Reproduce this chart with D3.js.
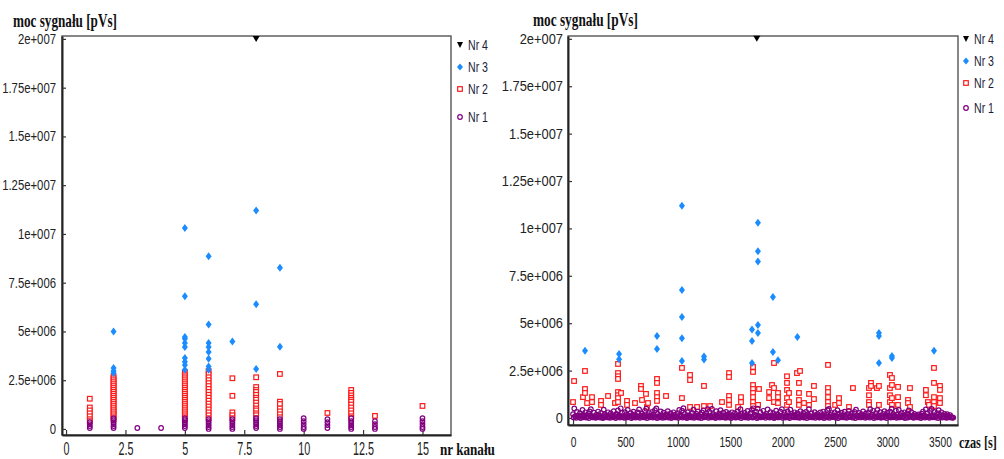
<!DOCTYPE html>
<html>
<head>
<meta charset="utf-8">
<script src="https://cdn.jsdelivr.net/npm/d3@7"></script>
<style>
  html, body { margin: 0; padding: 0; background: #fff; }
  svg { display: block; }
</style>
</head>
<body>
<svg id="chart" width="1004" height="459"></svg>
<script>
"use strict";

// ── Data ─────────────────────────────────────────────────────────────────────
const seriesNames = ["Nr 4", "Nr 3", "Nr 2", "Nr 1"];
const powerTicks = [0, 2.5e6, 5e6, 7.5e6, 1e7, 1.25e7, 1.5e7, 1.75e7, 2e7];
const channelTicks = [0, 2.5, 5, 7.5, 10, 12.5, 15];
const timeTicks = [0, 500, 1000, 1500, 2000, 2500, 3000, 3500];

// [channel, power]
const nr4ByChannel = [[8, 2.0e7]];
const nr3ByChannel = [
  [2, 5.0e6], [2, 3.13e6], [2, 2.97e6], [2, 2.87e6],
  [5, 10.3e6], [5, 6.8e6], [5, 4.72e6], [5, 4.62e6], [5, 4.41e6], [5, 4.2e6],
  [5, 3.64e6], [5, 3.44e6], [5, 3.28e6], [5, 3.03e6],
  [6, 8.85e6], [6, 5.35e6], [6, 4.41e6], [6, 4.2e6], [6, 3.95e6], [6, 3.6e6], [6, 3.2e6], [6, 3.03e6],
  [7, 4.48e6],
  [8, 11.2e6], [8, 6.4e6], [8, 3.08e6],
  [9, 8.27e6], [9, 4.22e6]
];
const nr2ByChannel = [
  [1, 1.55e6], [1, 1.1e6], [1, 0.95e6], [1, 0.8e6], [1, 0.65e6], [1, 0.5e6], [1, 0.4e6],
  [2, 2.7e6], [2, 2.6e6], [2, 2.5e6], [2, 2.4e6], [2, 2.3e6], [2, 2.2e6], [2, 2.1e6], [2, 2.0e6],
  [2, 1.9e6], [2, 1.8e6], [2, 1.7e6], [2, 1.6e6], [2, 1.5e6], [2, 1.4e6], [2, 1.3e6], [2, 1.2e6],
  [2, 1.1e6], [2, 1.0e6], [2, 0.9e6], [2, 0.8e6], [2, 0.7e6], [2, 0.6e6], [2, 0.5e6],
  [5, 2.92e6], [5, 2.8e6], [5, 2.7e6], [5, 2.6e6], [5, 2.5e6], [5, 2.4e6], [5, 2.3e6], [5, 2.2e6],
  [5, 2.1e6], [5, 2.0e6], [5, 1.9e6], [5, 1.8e6], [5, 1.7e6], [5, 1.6e6], [5, 1.5e6], [5, 1.4e6],
  [5, 1.3e6], [5, 1.2e6], [5, 1.1e6], [5, 1.0e6], [5, 0.9e6], [5, 0.8e6], [5, 0.7e6], [5, 0.6e6], [5, 0.5e6],
  [6, 2.97e6], [6, 2.82e6], [6, 2.65e6], [6, 2.5e6], [6, 2.35e6], [6, 2.2e6], [6, 2.05e6], [6, 1.9e6],
  [6, 1.75e6], [6, 1.6e6], [6, 1.45e6], [6, 1.3e6], [6, 1.15e6], [6, 1.0e6], [6, 0.85e6], [6, 0.7e6], [6, 0.55e6],
  [7, 2.6e6], [7, 1.7e6], [7, 0.85e6], [7, 0.7e6], [7, 0.55e6],
  [8, 2.65e6], [8, 2.15e6], [8, 2.0e6], [8, 1.9e6], [8, 1.75e6], [8, 1.6e6], [8, 1.5e6], [8, 1.35e6],
  [8, 1.2e6], [8, 1.05e6], [8, 0.95e6], [8, 0.8e6], [8, 0.7e6], [8, 0.55e6],
  [9, 2.82e6], [9, 1.4e6], [9, 1.28e6], [9, 1.05e6], [9, 0.9e6], [9, 0.75e6], [9, 0.6e6],
  [11, 0.82e6],
  [12, 2.0e6], [12, 1.85e6], [12, 1.72e6], [12, 1.6e6], [12, 1.5e6], [12, 1.4e6], [12, 1.25e6],
  [12, 1.1e6], [12, 0.95e6], [12, 0.8e6], [12, 0.65e6], [12, 0.55e6],
  [13, 0.67e6],
  [15, 1.18e6]
];
const nr1ByChannel = [
  [1, 0.35e6], [1, 0.25e6], [1, 0.15e6], [1, 0.05e6],
  [2, 0.55e6], [2, 0.45e6], [2, 0.35e6], [2, 0.25e6], [2, 0.15e6], [2, 0.05e6],
  [3, 0.05e6], [4, 0.05e6],
  [5, 0.55e6], [5, 0.45e6], [5, 0.35e6], [5, 0.25e6], [5, 0.15e6], [5, 0.05e6],
  [6, 0.5e6], [6, 0.4e6], [6, 0.3e6], [6, 0.2e6], [6, 0.1e6], [6, 0.0],
  [7, 0.5e6], [7, 0.4e6], [7, 0.3e6], [7, 0.2e6], [7, 0.1e6], [7, 0.0],
  [8, 0.55e6], [8, 0.45e6], [8, 0.35e6], [8, 0.25e6], [8, 0.15e6], [8, 0.05e6],
  [9, 0.5e6], [9, 0.4e6], [9, 0.3e6], [9, 0.2e6], [9, 0.1e6], [9, 0.0],
  [10, 0.55e6], [10, 0.4e6], [10, 0.25e6], [10, 0.1e6], [10, 0.0],
  [11, 0.5e6], [11, 0.35e6], [11, 0.2e6], [11, 0.05e6],
  [12, 0.55e6], [12, 0.4e6], [12, 0.3e6], [12, 0.2e6], [12, 0.1e6], [12, 0.0],
  [13, 0.4e6], [13, 0.25e6], [13, 0.1e6], [13, 0.0],
  [15, 0.55e6], [15, 0.4e6], [15, 0.25e6], [15, 0.1e6], [15, 0.0]
];

// [time s, power]
const nr4ByTime = [[1753, 2.0e7]];
const nr3ByTime = [
  [114, 3.55e6], [439, 3.38e6], [439, 3.1e6], [801, 4.32e6], [801, 3.64e6],
  [1039, 11.2e6], [1039, 6.75e6], [1039, 5.33e6], [1039, 4.2e6], [1039, 3.0e6],
  [1249, 3.25e6], [1249, 3.08e6], [1707, 4.67e6], [1707, 4.06e6], [1707, 2.9e6],
  [1764, 10.3e6], [1764, 8.8e6], [1764, 8.25e6], [1764, 4.9e6], [1764, 4.48e6],
  [1907, 6.38e6], [1907, 3.48e6], [1955, 3.05e6], [2140, 4.27e6],
  [2918, 4.48e6], [2918, 4.32e6], [2918, 2.9e6], [3042, 3.27e6], [3042, 3.16e6], [3443, 3.55e6]
];
const nr2ByTime = [
  [10, 1.95e6], [0, 0.84e6], [95, 1.1e6], [114, 2.48e6], [114, 1.53e6], [114, 1.32e6], [134, 0.79e6],
  [181, 1.1e6], [181, 0.84e6], [267, 0.9e6], [267, 0.69e6], [334, 1.16e6], [400, 0.79e6],
  [429, 2.85e6], [429, 2.37e6], [429, 2.2e6], [429, 2.06e6], [429, 1.37e6], [429, 1.2e6], [429, 1.05e6], [429, 0.84e6],
  [458, 1.32e6], [515, 0.9e6], [515, 0.69e6], [591, 0.79e6], [648, 1.69e6], [648, 1.53e6], [658, 0.95e6],
  [696, 1.27e6], [705, 0.58e6], [715, 0.79e6],
  [801, 2.06e6], [801, 1.85e6], [801, 1.32e6], [801, 1.1e6], [801, 0.9e6], [887, 1.16e6],
  [1039, 2.64e6], [1039, 1.05e6], [1116, 2.27e6], [1116, 2.0e6], [1116, 0.58e6], [1183, 0.58e6],
  [1249, 1.69e6], [1249, 0.63e6], [1307, 0.63e6], [1421, 0.84e6],
  [1488, 2.37e6], [1488, 2.16e6], [1488, 1.16e6], [1488, 0.95e6], [1488, 0.69e6], [1574, 0.58e6],
  [1602, 1.1e6], [1602, 0.84e6],
  [1717, 2.69e6], [1717, 2.43e6], [1717, 1.74e6], [1717, 1.53e6], [1717, 1.32e6], [1717, 1.1e6], [1717, 0.84e6], [1717, 0.63e6],
  [1765, 0.69e6], [1774, 1.53e6],
  [1870, 1.37e6], [1870, 1.05e6], [1898, 1.74e6], [1917, 2.9e6], [1917, 1.58e6], [1917, 0.84e6],
  [1955, 1.32e6], [1955, 1.1e6], [1955, 0.79e6],
  [2041, 2.2e6], [2041, 1.85e6], [2041, 1.48e6], [2041, 1.05e6], [2041, 0.69e6], [2060, 1.32e6], [2060, 0.84e6],
  [2136, 2.37e6], [2165, 2.48e6], [2155, 1.85e6], [2155, 1.32e6], [2155, 0.95e6], [2155, 0.69e6], [2203, 0.79e6],
  [2251, 1.27e6], [2251, 0.69e6], [2298, 1.69e6], [2298, 1.0e6],
  [2432, 2.8e6], [2432, 1.58e6], [2432, 1.37e6], [2432, 1.1e6], [2432, 0.84e6], [2432, 0.63e6],
  [2500, 0.69e6], [2537, 1.05e6], [2537, 0.79e6], [2632, 0.58e6], [2670, 1.58e6],
  [2823, 1.58e6], [2823, 1.2e6], [2823, 0.84e6], [2823, 0.69e6], [2842, 1.85e6], [2842, 1.69e6],
  [2899, 1.58e6], [2918, 1.69e6], [2918, 0.69e6],
  [3023, 2.27e6], [3023, 1.58e6], [3023, 1.2e6], [3023, 0.84e6], [3042, 2.11e6], [3042, 1.74e6], [3042, 1.05e6], [3042, 0.69e6],
  [3100, 1.64e6], [3100, 1.1e6], [3100, 0.69e6], [3195, 0.95e6], [3195, 0.79e6], [3214, 1.58e6], [3214, 0.58e6],
  [3366, 1.48e6], [3366, 1.2e6], [3385, 0.84e6], [3395, 0.69e6],
  [3443, 2.64e6], [3443, 1.85e6], [3443, 1.1e6], [3443, 0.84e6], [3443, 0.63e6],
  [3500, 1.69e6], [3500, 1.48e6], [3500, 1.05e6], [3500, 0.79e6]
];
const nr1ByTime = [
  [0, 2.0e5], [12, 5.0e5], [25, 1.0e5], [37, 3.2e5], [51, 0.5e5], [66, 2.5e5], [78, 1.2e5], [90, 4.2e5],
  [104, 1.5e5], [117, 3.0e5], [131, 0.8e5], [146, 2.2e5], [158, 3.5e5], [170, 4.6e5], [185, 1.0e5], [199, 2.8e5],
  [212, 0.6e5], [224, 1.8e5], [239, 3.4e5], [253, 1.2e5], [266, 2.6e5], [280, 0.4e5], [293, 4.4e5], [305, 2.0e5],
  [319, 1.4e5], [334, 3.0e5], [347, 0.7e5], [360, 2.4e5], [372, 1.1e5], [388, 3.6e5], [401, 0.9e5], [414, 2.2e5],
  [428, 4.0e5], [441, 1.3e5], [455, 5.1e5], [468, 2.7e5], [480, 0.5e5], [495, 3.1e5], [509, 1.6e5], [522, 4.3e5],
  [536, 0.8e5], [549, 2.5e5], [563, 1.0e5], [577, 3.3e5], [590, 1.9e5], [604, 0.6e5], [617, 2.9e5], [630, 4.5e5],
  [645, 1.2e5], [659, 2.3e5], [672, 0.5e5], [685, 3.8e5], [700, 4.9e5], [713, 1.5e5], [727, 2.6e5], [740, 0.9e5],
  [754, 3.2e5], [768, 1.8e5], [781, 4.1e5], [795, 5.0e5], [808, 2.1e5], [821, 0.7e5], [836, 3.5e5], [850, 1.4e5],
  [863, 2.8e5], [877, 0.4e5], [890, 2.0e5], [904, 3.6e5], [918, 1.1e5], [931, 2.4e5], [945, 0.6e5], [958, 3.0e5],
  [972, 1.7e5], [986, 0.9e5], [999, 2.6e5], [1013, 4.2e5], [1026, 1.3e5], [1040, 3.9e5], [1053, 5.2e5], [1067, 2.2e5],
  [1081, 0.8e5], [1094, 3.1e5], [1108, 1.5e5], [1121, 0.5e5], [1135, 2.7e5], [1149, 4.4e5], [1162, 1.0e5], [1176, 2.3e5],
  [1189, 3.4e5], [1203, 0.7e5], [1217, 1.9e5], [1230, 2.9e5], [1244, 4.0e5], [1257, 1.2e5], [1271, 2.5e5], [1285, 4.7e5],
  [1298, 3.3e5], [1312, 0.9e5], [1325, 4.8e5], [1339, 2.0e5], [1353, 1.1e5], [1366, 3.6e5], [1380, 0.6e5], [1393, 2.4e5],
  [1407, 4.1e5], [1421, 1.4e5], [1434, 2.8e5], [1448, 0.5e5], [1461, 3.2e5], [1475, 1.7e5], [1489, 2.3e5], [1502, 0.8e5],
  [1516, 3.0e5], [1529, 1.2e5], [1543, 2.6e5], [1557, 0.4e5], [1570, 3.5e5], [1584, 1.6e5], [1597, 4.6e5], [1611, 2.1e5],
  [1625, 0.9e5], [1638, 2.7e5], [1652, 1.3e5], [1665, 3.7e5], [1679, 0.6e5], [1693, 2.5e5], [1706, 4.3e5], [1720, 5.1e5],
  [1733, 1.8e5], [1747, 3.4e5], [1761, 4.9e5], [1774, 1.0e5], [1788, 2.9e5], [1801, 0.7e5], [1815, 3.8e5], [1829, 1.5e5],
  [1842, 2.2e5], [1856, 4.5e5], [1869, 1.1e5], [1883, 3.1e5], [1897, 0.5e5], [1910, 2.6e5], [1924, 1.4e5], [1937, 3.9e5],
  [1951, 2.0e5], [1965, 0.8e5], [1978, 3.3e5], [1992, 4.7e5], [2005, 1.6e5], [2019, 2.8e5], [2033, 0.6e5], [2046, 3.5e5],
  [2060, 1.2e5], [2073, 4.4e5], [2087, 2.3e5], [2101, 0.9e5], [2114, 3.0e5], [2128, 1.7e5], [2141, 2.5e5], [2155, 0.5e5],
  [2169, 3.6e5], [2182, 1.3e5], [2196, 2.7e5], [2209, 0.7e5], [2223, 3.2e5], [2237, 1.9e5], [2250, 4.6e5], [2264, 1.0e5],
  [2277, 2.4e5], [2291, 0.6e5], [2305, 3.1e5], [2318, 1.5e5], [2332, 2.2e5], [2345, 0.4e5], [2359, 2.9e5], [2373, 1.1e5],
  [2386, 3.4e5], [2400, 2.0e5], [2413, 0.8e5], [2427, 4.2e5], [2441, 4.8e5], [2454, 1.6e5], [2468, 2.6e5], [2481, 0.5e5],
  [2495, 3.0e5], [2509, 1.2e5], [2522, 4.1e5], [2536, 2.3e5], [2549, 0.7e5], [2563, 2.8e5], [2577, 1.4e5], [2590, 3.3e5],
  [2604, 0.6e5], [2617, 2.1e5], [2631, 3.7e5], [2645, 1.0e5], [2658, 2.5e5], [2672, 0.5e5], [2685, 3.2e5], [2699, 4.4e5],
  [2713, 1.3e5], [2726, 2.7e5], [2740, 0.8e5], [2753, 2.0e5], [2767, 3.5e5], [2781, 1.1e5], [2794, 2.4e5], [2808, 0.6e5],
  [2821, 3.0e5], [2835, 4.6e5], [2849, 1.7e5], [2862, 3.8e5], [2876, 0.9e5], [2889, 2.6e5], [2903, 4.3e5], [2917, 1.4e5],
  [2930, 3.1e5], [2944, 0.5e5], [2957, 2.2e5], [2971, 3.6e5], [2985, 1.0e5], [2998, 2.8e5], [3012, 0.7e5], [3025, 3.3e5],
  [3039, 4.9e5], [3053, 2.0e5], [3066, 1.2e5], [3080, 3.9e5], [3093, 0.6e5], [3107, 4.2e5], [3121, 1.5e5], [3134, 2.7e5],
  [3148, 0.4e5], [3161, 3.0e5], [3175, 1.8e5], [3189, 2.4e5], [3202, 4.0e5], [3216, 1.1e5], [3229, 2.9e5], [3243, 0.6e5],
  [3257, 2.1e5], [3270, 1.3e5], [3284, 0.5e5], [3297, 1.9e5], [3311, 0.8e5], [3325, 2.3e5], [3338, 3.4e5], [3352, 1.2e5],
  [3365, 4.5e5], [3379, 2.6e5], [3393, 0.7e5], [3406, 3.7e5], [3420, 4.8e5], [3433, 1.5e5], [3447, 3.2e5], [3461, 0.9e5],
  [3474, 2.5e5], [3488, 4.1e5], [3501, 1.6e5], [3515, 3.0e5], [3529, 0.6e5], [3542, 2.2e5], [3556, 1.4e5], [3569, 2.0e5],
  [3583, 0.8e5], [3597, 1.5e5], [3610, 0.5e5], [3627, 0.2e5]
];
// the many weak Nr 1 events that form the solid band at the bottom
const nr1ByTimeWeak = [
  [6, 0.3e5], [19, 0.8e5], [31, 0.1e5], [44, 1.1e5], [58, 0.5e5], [72, 0.0], [84, 0.9e5], [97, 0.4e5],
  [110, 1.2e5], [124, 0.2e5], [138, 0.7e5], [152, 0.0], [164, 1.0e5], [177, 0.6e5], [192, 0.3e5], [205, 0.9e5],
  [218, 0.1e5], [231, 0.5e5], [246, 1.1e5], [259, 0.2e5], [273, 0.8e5], [286, 0.0], [299, 0.6e5], [312, 1.0e5],
  [326, 0.3e5], [340, 0.7e5], [353, 0.1e5], [366, 0.9e5], [380, 0.4e5], [394, 1.2e5], [407, 0.0], [421, 0.5e5],
  [434, 0.8e5], [448, 0.2e5], [461, 1.0e5], [474, 0.6e5], [488, 0.1e5], [502, 0.9e5], [515, 0.3e5], [529, 0.7e5],
  [542, 1.1e5], [556, 0.0], [570, 0.4e5], [583, 0.8e5], [597, 0.2e5], [610, 1.0e5], [623, 0.5e5], [638, 0.1e5],
  [652, 0.7e5], [665, 1.2e5], [678, 0.3e5], [692, 0.6e5], [706, 0.0], [720, 0.9e5], [733, 0.4e5], [747, 1.1e5],
  [761, 0.2e5], [774, 0.8e5], [788, 0.5e5], [801, 0.0], [814, 1.0e5], [829, 0.3e5], [843, 0.7e5], [856, 0.1e5],
  [870, 0.9e5], [883, 0.4e5], [897, 1.2e5], [911, 0.2e5], [924, 0.6e5], [938, 0.0], [951, 0.8e5], [965, 1.0e5],
  [979, 0.3e5], [992, 0.5e5], [1006, 0.1e5], [1019, 1.1e5], [1033, 0.7e5], [1046, 0.2e5], [1060, 0.9e5], [1074, 0.4e5],
  [1087, 0.0], [1101, 0.6e5], [1114, 1.0e5], [1128, 0.3e5], [1142, 0.8e5], [1155, 0.1e5], [1169, 0.5e5], [1182, 1.2e5],
  [1196, 0.2e5], [1210, 0.7e5], [1223, 0.0], [1237, 0.9e5], [1250, 0.4e5], [1264, 1.1e5], [1278, 0.6e5], [1291, 0.1e5],
  [1305, 0.8e5], [1318, 0.3e5], [1332, 1.0e5], [1346, 0.5e5], [1359, 0.0], [1373, 0.7e5], [1386, 1.1e5], [1400, 0.2e5],
  [1414, 0.9e5], [1427, 0.4e5], [1441, 0.6e5], [1454, 0.1e5], [1468, 1.2e5], [1482, 0.3e5], [1495, 0.8e5], [1509, 0.0],
  [1522, 0.5e5], [1536, 1.0e5], [1550, 0.2e5], [1563, 0.7e5], [1577, 0.4e5], [1590, 1.1e5], [1604, 0.0], [1618, 0.6e5],
  [1631, 0.9e5], [1645, 0.3e5], [1658, 0.8e5], [1672, 0.1e5], [1686, 1.0e5], [1699, 0.5e5], [1713, 0.2e5], [1726, 0.7e5],
  [1740, 1.2e5], [1754, 0.0], [1767, 0.4e5], [1781, 0.9e5], [1794, 0.3e5], [1808, 0.6e5], [1822, 1.1e5], [1835, 0.1e5],
  [1849, 0.8e5], [1862, 0.5e5], [1876, 0.2e5], [1890, 1.0e5], [1903, 0.7e5], [1917, 0.0], [1930, 0.4e5], [1944, 0.9e5],
  [1958, 0.3e5], [1971, 1.1e5], [1985, 0.6e5], [1998, 0.1e5], [2012, 0.8e5], [2026, 0.2e5], [2039, 1.0e5], [2053, 0.5e5],
  [2066, 0.0], [2080, 0.7e5], [2094, 1.2e5], [2107, 0.4e5], [2121, 0.9e5], [2134, 0.3e5], [2148, 0.6e5], [2162, 0.1e5],
  [2175, 1.0e5], [2189, 0.5e5], [2202, 0.2e5], [2216, 0.8e5], [2230, 0.0], [2243, 1.1e5], [2257, 0.4e5], [2270, 0.7e5],
  [2284, 0.3e5], [2298, 0.9e5], [2311, 0.1e5], [2325, 0.6e5], [2338, 1.2e5], [2352, 0.2e5], [2366, 0.8e5], [2379, 0.5e5],
  [2393, 0.0], [2406, 1.0e5], [2420, 0.3e5], [2434, 0.7e5], [2447, 0.1e5], [2461, 0.9e5], [2474, 0.5e5], [2488, 1.1e5],
  [2502, 0.2e5], [2515, 0.6e5], [2529, 0.0], [2542, 0.8e5], [2556, 0.4e5], [2570, 1.2e5], [2583, 0.3e5], [2597, 0.7e5],
  [2610, 0.1e5], [2624, 0.9e5], [2638, 0.5e5], [2651, 1.0e5], [2665, 0.2e5], [2678, 0.6e5], [2692, 0.0], [2706, 1.1e5],
  [2719, 0.4e5], [2733, 0.8e5], [2746, 0.3e5], [2760, 0.7e5], [2774, 1.2e5], [2787, 0.1e5], [2801, 0.5e5], [2814, 0.9e5],
  [2828, 0.2e5], [2842, 1.0e5], [2855, 0.6e5], [2869, 0.0], [2882, 0.8e5], [2896, 0.3e5], [2910, 1.1e5], [2923, 0.5e5],
  [2937, 0.1e5], [2951, 0.9e5], [2964, 0.4e5], [2978, 0.7e5], [2991, 0.0], [3005, 1.2e5], [3018, 0.6e5], [3032, 0.2e5],
  [3046, 0.8e5], [3059, 0.4e5], [3073, 1.0e5], [3086, 0.1e5], [3100, 0.7e5], [3114, 0.3e5], [3127, 0.9e5], [3141, 0.5e5],
  [3154, 1.1e5], [3168, 0.0], [3182, 0.6e5], [3195, 0.2e5], [3209, 0.8e5], [3222, 1.0e5], [3236, 0.4e5], [3250, 0.1e5],
  [3263, 0.7e5], [3277, 1.2e5], [3290, 0.3e5], [3304, 0.9e5], [3318, 0.0], [3331, 0.5e5], [3345, 1.0e5], [3358, 0.2e5],
  [3372, 0.8e5], [3386, 0.6e5], [3399, 0.1e5], [3413, 1.1e5], [3426, 0.4e5], [3440, 0.7e5], [3454, 0.3e5], [3467, 0.9e5],
  [3481, 0.0], [3494, 0.6e5], [3508, 1.0e5], [3522, 0.2e5], [3535, 0.8e5], [3549, 0.4e5], [3562, 0.1e5], [3576, 0.7e5],
  [3590, 0.3e5], [3603, 0.5e5], [3617, 0.1e5]
];

// ── Styles ───────────────────────────────────────────────────────────────────
const COL_BLUE = "#1a8cff";
const COL_RED = "#ff1a1a";
const COL_PURPLE = "#800080";
const COL_TEXT = "#222";
const SANS = "'Liberation Sans', Arial, sans-serif";
const SERIF = "'Liberation Serif', 'Times New Roman', serif";

const svg = d3.select("#chart");

function sciFormat(v) {
  if (v === 0) return "0";
  const e = Math.floor(Math.log10(v));
  const m = +(v / Math.pow(10, e)).toFixed(2);
  return `${m}e+${String(e).padStart(3, "0")}`;
}

function diamondPath(w, h) {
  return `M0,${-h / 2}L${w / 2},0L0,${h / 2}L${-w / 2},0Z`;
}
function triangleDownPath(w, h) {
  return `M${-w / 2},${-h / 2}L${w / 2},${-h / 2}L0,${h / 2}Z`;
}

// draw a markers layer for a series
function drawSeries(g, data, x, y, kind) {
  if (kind === "nr2") {
    g.append("g").selectAll("rect").data(data).join("rect")
      .attr("x", d => x(d[0]) - 2.3).attr("y", d => y(d[1]) - 2.3)
      .attr("width", 4.6).attr("height", 4.6)
      .attr("fill", "#fff").attr("stroke", COL_RED).attr("stroke-width", 1.2);
  } else if (kind === "nr1") {
    g.append("g").selectAll("circle").data(data).join("circle")
      .attr("cx", d => x(d[0])).attr("cy", d => y(d[1])).attr("r", 2.3)
      .attr("fill", "none").attr("stroke", COL_PURPLE).attr("stroke-width", 1.2);
  } else if (kind === "nr3") {
    g.append("g").selectAll("path").data(data).join("path")
      .attr("transform", d => `translate(${x(d[0])},${y(d[1])})`)
      .attr("d", diamondPath(6, 8)).attr("fill", COL_BLUE);
  } else {
    g.append("g").selectAll("path").data(data).join("path")
      .attr("transform", d => `translate(${x(d[0])},${y(d[1])})`)
      .attr("d", triangleDownPath(7, 6)).attr("fill", "#000");
  }
}

function drawLegend(lx, rowsY, textLen) {
  const kinds = ["nr4", "nr3", "nr2", "nr1"];
  const lg = svg.append("g");
  seriesNames.forEach((name, i) => {
    const cy = rowsY[i];
    const k = kinds[i];
    if (k === "nr4") lg.append("path").attr("transform", `translate(${lx},${cy})`).attr("d", triangleDownPath(6, 6)).attr("fill", "#000");
    if (k === "nr3") lg.append("path").attr("transform", `translate(${lx},${cy})`).attr("d", diamondPath(6, 7)).attr("fill", COL_BLUE);
    if (k === "nr2") lg.append("rect").attr("x", lx - 2.3).attr("y", cy - 2.3).attr("width", 4.6).attr("height", 4.6)
      .attr("fill", "#fff").attr("stroke", COL_RED).attr("stroke-width", 1.2);
    if (k === "nr1") lg.append("circle").attr("cx", lx).attr("cy", cy).attr("r", 2.3)
      .attr("fill", "none").attr("stroke", COL_PURPLE).attr("stroke-width", 1.2);
    lg.append("text").attr("x", lx + 8).attr("y", cy + 5)
      .attr("font-family", SANS).attr("font-size", 14).attr("fill", "#1c1c3a")
      .attr("textLength", textLen).attr("lengthAdjust", "spacingAndGlyphs")
      .text(name);
  });
}

// narrow bold serif label: squeeze horizontally to the measured width
function boldLabel(x, y, text, len, size) {
  const t = svg.append("text").attr("x", 0).attr("y", 0)
    .attr("font-family", SERIF).attr("font-weight", "bold").attr("font-size", size)
    .attr("fill", "#111")
    .text(text);
  const natural = t.node().getComputedTextLength() || len;
  t.attr("transform", `translate(${x},${y}) scale(${len / natural},1)`);
}

// ── One scatter panel ────────────────────────────────────────────────────────
function drawPanel(cfg) {
  const { x, y, xTicks, series } = cfg;
  const [x0, x1] = x.range();
  const [yb, yt] = y.range();

  // frame
  svg.append("rect")
    .attr("x", x0).attr("y", yt).attr("width", x1 - x0).attr("height", yb - yt)
    .attr("fill", "none").attr("stroke", "#555").attr("stroke-width", 1.4);

  // y axis
  const yAxis = svg.append("g").attr("transform", `translate(${x0},0)`)
    .call(d3.axisLeft(y).tickValues(powerTicks).tickFormat(sciFormat)
      .tickSizeInner(-4).tickSizeOuter(0).tickPadding(cfg.yPad));
  yAxis.select(".domain").attr("stroke", "#222").attr("stroke-width", 2);
  yAxis.selectAll(".tick line").attr("stroke", "#333").attr("stroke-width", 1.2);
  yAxis.selectAll(".tick text")
    .attr("font-family", SANS).attr("font-size", 14).attr("fill", COL_TEXT)
    .attr("transform", `scale(${cfg.ySx},1)`)
    .attr("x", -cfg.yPad / cfg.ySx);

  // x axis
  const xAxis = svg.append("g").attr("transform", `translate(0,${yb})`)
    .call(d3.axisBottom(x).tickValues(xTicks).tickFormat(cfg.xFormat)
      .tickSizeInner(-5).tickSizeOuter(0));
  xAxis.select(".domain").attr("stroke", "#222").attr("stroke-width", 2);
  xAxis.selectAll(".tick line").attr("stroke", "#333").attr("stroke-width", 1.2);
  xAxis.selectAll(".tick text")
    .attr("font-family", SANS).attr("font-size", cfg.xFont).attr("fill", COL_TEXT)
    .attr("transform", `scale(${cfg.xSx},1)`)
    .attr("dy", null).attr("y", cfg.xLabelY);

  // markers, red first then purple, blue, black on top
  const g = svg.append("g");
  drawSeries(g, series.nr2, x, y, "nr2");
  series.nr1.forEach(s => drawSeries(g, s, x, y, "nr1"));
  drawSeries(g, series.nr3, x, y, "nr3");
  drawSeries(g, series.nr4, x, y, "nr4");
}

// ── Left: power vs channel ───────────────────────────────────────────────────
const xChan = d3.scaleLinear().domain([-0.17, 16.2]).range([62, 451]);
const yChan = d3.scaleLinear().domain([-0.31e6, 20.15e6]).range([435, 36]);
drawPanel({
  x: xChan, y: yChan, xTicks: channelTicks, xFormat: d => String(d),
  yPad: 6, ySx: 0.81, xFont: 18, xSx: 0.6, xLabelY: 20,
  series: { nr4: nr4ByChannel, nr3: nr3ByChannel, nr2: nr2ByChannel, nr1: [nr1ByChannel] }
});

// ── Right: power vs time ─────────────────────────────────────────────────────
const xTime = d3.scaleLinear().domain([-48, 3672]).range([568, 958]);
const yTime = d3.scaleLinear().domain([-0.37e6, 20.15e6]).range([425, 36]);
drawPanel({
  x: xTime, y: yTime, xTicks: timeTicks, xFormat: d3.format("d"),
  yPad: 5, ySx: 0.92, xFont: 15.5, xSx: 0.66, xLabelY: 22,
  series: { nr4: nr4ByTime, nr3: nr3ByTime, nr2: nr2ByTime, nr1: [nr1ByTimeWeak, nr1ByTime] }
});

// ── Titles & legends ─────────────────────────────────────────────────────────
boldLabel(13, 27, "moc sygnału [pVs]", 104, 18);
boldLabel(533, 26, "moc sygnału [pVs]", 105, 18);
boldLabel(440, 455, "nr kanału", 55, 16);
boldLabel(959, 448, "czas [s]", 38, 17);

drawLegend(460, [45, 67, 89, 117], 20);
drawLegend(966, [39, 61, 83, 108], 20);
</script>
</body>
</html>
